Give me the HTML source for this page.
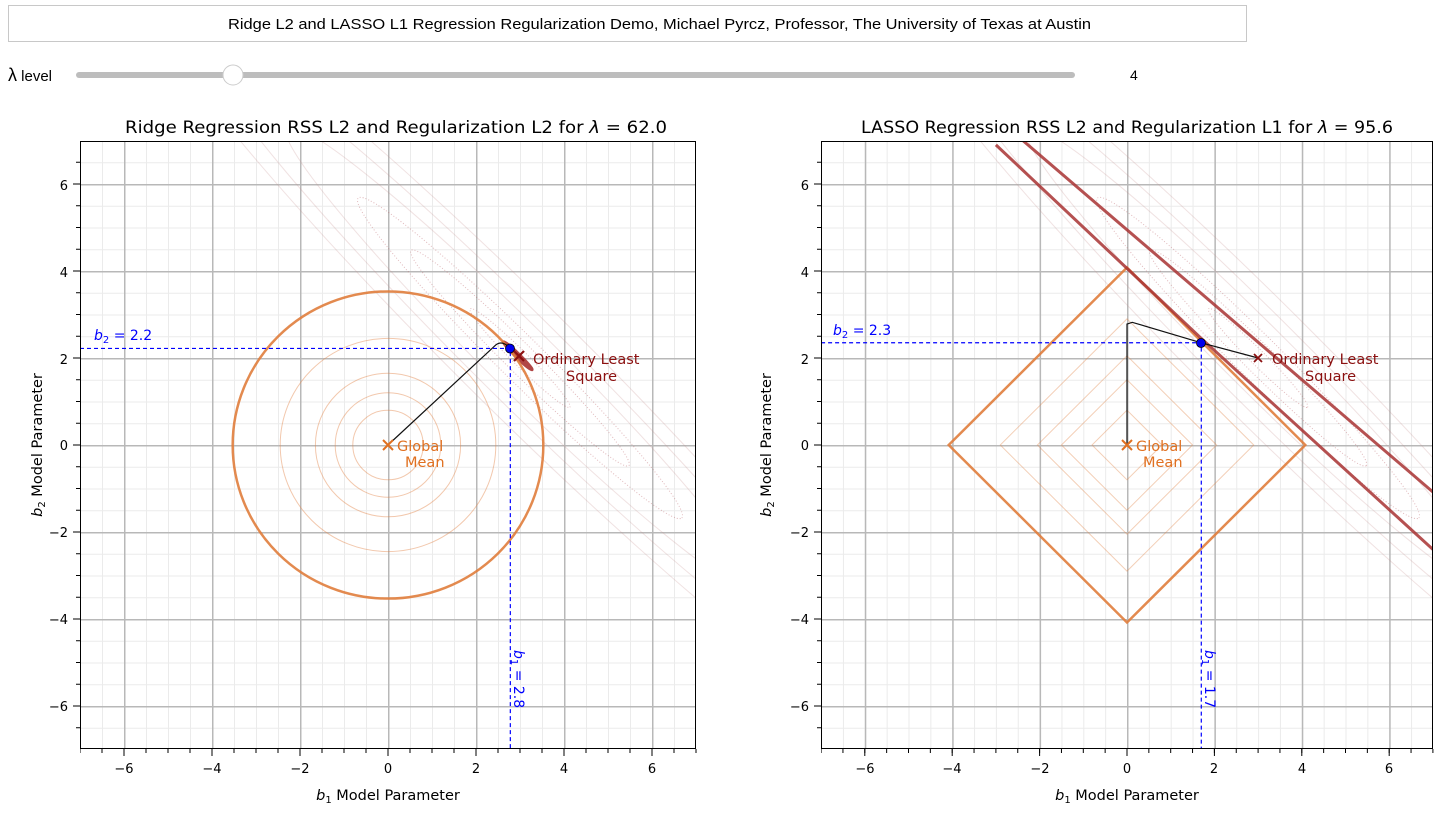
<!DOCTYPE html>
<html><head><meta charset="utf-8"><style>
body{margin:0;background:#fff;width:1450px;height:819px;overflow:hidden;font-family:"DejaVu Sans","Liberation Sans",sans-serif;}
</style></head><body>
<svg width="1450" height="819" xmlns="http://www.w3.org/2000/svg" font-family="DejaVu Sans, Liberation Sans, sans-serif">
<defs>
<pattern id="pm1" patternUnits="userSpaceOnUse" x="388" y="445" width="22" height="21.75"><path d="M0 0V21.75M0 0H22" stroke="#ebebeb" stroke-width="2"/></pattern>
<pattern id="pM1" patternUnits="userSpaceOnUse" x="388" y="445" width="88" height="87"><path d="M0 0V87M0 0H88" stroke="#b8b8b8" stroke-width="3"/></pattern>
<pattern id="pm2" patternUnits="userSpaceOnUse" x="1127" y="445" width="21.85" height="21.75"><path d="M0 0V21.75M0 0H21.85" stroke="#ebebeb" stroke-width="2"/></pattern>
<pattern id="pM2" patternUnits="userSpaceOnUse" x="1127" y="445" width="87.4" height="87"><path d="M0 0V87M0 0H87.4" stroke="#b8b8b8" stroke-width="3"/></pattern>
<pattern id="tx1" patternUnits="userSpaceOnUse" x="387.5" y="0" width="22" height="819"><path d="M0.5 749V753" stroke="#000"/></pattern>
<pattern id="tX1" patternUnits="userSpaceOnUse" x="387.5" y="0" width="88" height="819"><path d="M0.5 749V756" stroke="#000"/></pattern>
<pattern id="ty1" patternUnits="userSpaceOnUse" x="0" y="444.5" width="819" height="21.75"><path d="M76 0.5H80" stroke="#000"/></pattern>
<pattern id="tY1" patternUnits="userSpaceOnUse" x="0" y="444.5" width="819" height="87"><path d="M73 0.5H80" stroke="#000"/></pattern>
<pattern id="tx2" patternUnits="userSpaceOnUse" x="1126.5" y="0" width="21.85" height="819"><path d="M0.5 749V753" stroke="#000"/></pattern>
<pattern id="tX2" patternUnits="userSpaceOnUse" x="1126.5" y="0" width="87.4" height="819"><path d="M0.5 749V756" stroke="#000"/></pattern>
<pattern id="ty2" patternUnits="userSpaceOnUse" x="0" y="444.5" width="1450" height="21.75"><path d="M817 0.5H821" stroke="#000"/></pattern>
<pattern id="tY2" patternUnits="userSpaceOnUse" x="0" y="444.5" width="1450" height="87"><path d="M814 0.5H821" stroke="#000"/></pattern>
<clipPath id="c1"><rect x="80" y="141" width="616" height="608"/></clipPath>
<clipPath id="c2"><rect x="821" y="141" width="612" height="608"/></clipPath>
</defs>
<!-- header -->
<rect x="8.5" y="5.5" width="1238" height="36" fill="#fff" stroke="#c8c8c8"/>
<text x="228" y="29" font-size="15" textLength="863" lengthAdjust="spacingAndGlyphs" font-family="Liberation Sans, sans-serif">Ridge L2 and LASSO L1 Regression Regularization Demo, Michael Pyrcz, Professor, The University of Texas at Austin</text>
<text x="8" y="81" font-size="15" font-family="Liberation Sans, sans-serif"><tspan font-size="18">λ</tspan> level</text>
<rect x="76" y="72" width="999" height="6" rx="3" fill="#bdbdbd"/>
<circle cx="233" cy="75" r="10" fill="#fff" stroke="#ccc"/>
<text x="1130" y="80" font-size="14" font-family="Liberation Sans, sans-serif">4</text>

<!-- LEFT PLOT -->
<rect x="80" y="141" width="616" height="608" fill="url(#pm1)"/>
<rect x="80" y="141" width="616" height="608" fill="url(#pM1)"/>
<g clip-path="url(#c1)">
<g transform="translate(388 445) scale(44 -43.5)" fill="none">
<g stroke="#b5525a" stroke-opacity="0.4" stroke-dasharray="1 2">
<ellipse cx="3" cy="2" rx="1.6" ry="0.17" transform="rotate(-45 3 2)" vector-effect="non-scaling-stroke"/>
<ellipse cx="3" cy="2" rx="3.5" ry="0.33" transform="rotate(-45 3 2)" vector-effect="non-scaling-stroke"/>
<ellipse cx="3" cy="2" rx="5.2" ry="0.5" transform="rotate(-45 3 2)" vector-effect="non-scaling-stroke"/>
</g>
<g stroke="#c48a8a" stroke-opacity="0.25">
<ellipse cx="3" cy="2" rx="7.5" ry="0.75" transform="rotate(-45 3 2)" vector-effect="non-scaling-stroke"/>
<ellipse cx="3" cy="2" rx="10" ry="1.0" transform="rotate(-45 3 2)" vector-effect="non-scaling-stroke"/>
<ellipse cx="3" cy="2" rx="12" ry="1.3" transform="rotate(-45 3 2)" vector-effect="non-scaling-stroke"/>
</g>
<ellipse cx="2.95" cy="2.05" rx="0.45" ry="0.04" transform="rotate(-45 2.95 2.05)" stroke="#a83232" stroke-width="3.5" vector-effect="non-scaling-stroke" stroke-opacity="0.9"/>
<g stroke="#e2864a" stroke-opacity="0.45">
<circle r="0.8" vector-effect="non-scaling-stroke"/><circle r="1.2" vector-effect="non-scaling-stroke"/><circle r="1.65" vector-effect="non-scaling-stroke"/><circle r="2.45" vector-effect="non-scaling-stroke"/>
</g>
<circle r="3.53" stroke="#e07d3c" stroke-width="2.5" vector-effect="non-scaling-stroke" stroke-opacity="0.9"/>
<path d="M0 0L2.45 2.3Q2.6 2.42 2.78 2.22" stroke="#111" stroke-width="1.2" vector-effect="non-scaling-stroke"/>
<path d="M-7 2.22H2.78V-7" stroke="#0000ff" stroke-width="1.2" stroke-dasharray="4 3" vector-effect="non-scaling-stroke"/>
</g>
</g>
<circle cx="510" cy="348.5" r="4.5" fill="#0000ee" stroke="#000" stroke-width="0.8"/>
<path d="M514 351l10 10M524 351l-10 10" stroke="#8b1010" stroke-width="2.2"/>
<path d="M383 440l10 10M393 440l-10 10" stroke="#e07020" stroke-width="2"/>
<text x="397" y="451" font-size="14.5" fill="#e07020">Global</text>
<text x="405" y="467" font-size="14.5" fill="#e07020">Mean</text>
<text x="533" y="364" font-size="14.5" fill="#8b1010">Ordinary Least</text>
<text x="566" y="381" font-size="14.5" fill="#8b1010">Square</text>
<text x="94" y="340" font-size="14" fill="#0000ff"><tspan font-style="italic">b</tspan><tspan font-size="10" dy="3">2</tspan><tspan dy="-3"> = 2.2</tspan></text>
<text transform="translate(514 650) rotate(90)" font-size="14" fill="#0000ff"><tspan font-style="italic">b</tspan><tspan font-size="10" dy="3">1</tspan><tspan dy="-3"> = 2.8</tspan></text>
<rect x="80.5" y="141.5" width="615" height="607" fill="none" stroke="#000"/>
<rect x="76" y="141" width="5" height="608" fill="url(#ty1)"/>
<rect x="73" y="141" width="8" height="608" fill="url(#tY1)"/>
<rect x="80" y="749" width="617" height="5" fill="url(#tx1)"/>
<rect x="80" y="749" width="617" height="8" fill="url(#tX1)"/>
<g font-size="13" text-anchor="middle">
<text x="124" y="773">−6</text><text x="212" y="773">−4</text><text x="300" y="773">−2</text><text x="388" y="773">0</text><text x="476" y="773">2</text><text x="564" y="773">4</text><text x="652" y="773">6</text>
</g>
<g font-size="13" text-anchor="end">
<text x="68" y="190">6</text><text x="68" y="277">4</text><text x="68" y="364">2</text><text x="68" y="450">0</text><text x="68" y="537">−2</text><text x="68" y="624">−4</text><text x="68" y="711">−6</text>
</g>
<text x="388" y="800" font-size="14.5" text-anchor="middle"><tspan font-style="italic">b</tspan><tspan font-size="10" dy="3">1</tspan><tspan dy="-3"> Model Parameter</tspan></text>
<text transform="translate(42 445) rotate(-90)" font-size="14.5" text-anchor="middle"><tspan font-style="italic">b</tspan><tspan font-size="10" dy="3">2</tspan><tspan dy="-3"> Model Parameter</tspan></text>
<text x="125" y="133" font-size="16.5" textLength="542" lengthAdjust="spacingAndGlyphs">Ridge Regression RSS L2 and Regularization L2 for <tspan font-style="italic">λ</tspan> = 62.0</text>

<!-- RIGHT PLOT -->
<rect x="821" y="141" width="612" height="608" fill="url(#pm2)"/>
<rect x="821" y="141" width="612" height="608" fill="url(#pM2)"/>
<g clip-path="url(#c2)">
<g transform="translate(1127 445) scale(43.7 -43.5)" fill="none">
<g stroke="#b5525a" stroke-opacity="0.4" stroke-dasharray="1 2">
<ellipse cx="3" cy="2" rx="1.6" ry="0.17" transform="rotate(-45 3 2)" vector-effect="non-scaling-stroke"/>
<ellipse cx="3" cy="2" rx="3.5" ry="0.33" transform="rotate(-45 3 2)" vector-effect="non-scaling-stroke"/>
<ellipse cx="3" cy="2" rx="5.2" ry="0.5" transform="rotate(-45 3 2)" vector-effect="non-scaling-stroke"/>
</g>
<g stroke="#c48a8a" stroke-opacity="0.25">
<ellipse cx="3" cy="2" rx="7.5" ry="0.75" transform="rotate(-45 3 2)" vector-effect="non-scaling-stroke"/>
<ellipse cx="3" cy="2" rx="10" ry="1.0" transform="rotate(-45 3 2)" vector-effect="non-scaling-stroke"/>
<ellipse cx="3" cy="2" rx="12" ry="1.3" transform="rotate(-45 3 2)" vector-effect="non-scaling-stroke"/>
</g>
<g stroke="#e2864a" stroke-opacity="0.4">
<path d="M0.8 0L0 0.8L-0.8 0L0 -0.8Z" vector-effect="non-scaling-stroke"/>
<path d="M1.5 0L0 1.5L-1.5 0L0 -1.5Z" vector-effect="non-scaling-stroke"/>
<path d="M2.05 0L0 2.05L-2.05 0L0 -2.05Z" vector-effect="non-scaling-stroke"/>
<path d="M2.9 0L0 2.9L-2.9 0L0 -2.9Z" vector-effect="non-scaling-stroke"/>
</g>
<path d="M4.08 0L0 4.08L-4.08 0L0 -4.08Z" stroke="#e07d3c" stroke-width="2.5" stroke-opacity="0.9" vector-effect="non-scaling-stroke"/>
<path d="M-2.5 7.1L7 -1.08" stroke="#a83232" stroke-width="3" stroke-opacity="0.85" vector-effect="non-scaling-stroke"/>
<path d="M-3 6.9L1.7 2.45L7 -2.4" stroke="#a83232" stroke-width="3" stroke-opacity="0.85" vector-effect="non-scaling-stroke"/>
<path d="M0 0V2.78L0.12 2.82L1.7 2.35L3 2" stroke="#111" stroke-width="1.2" vector-effect="non-scaling-stroke"/>
<path d="M-7 2.35H1.7V-7" stroke="#0000ff" stroke-width="1.2" stroke-dasharray="4 3" vector-effect="non-scaling-stroke"/>
</g>
</g>
<circle cx="1201" cy="343" r="4.5" fill="#0000ee" stroke="#000" stroke-width="0.8"/>
<path d="M1254 354l8 8M1262 354l-8 8" stroke="#8b1010" stroke-width="1.8"/>
<path d="M1122 440l10 10M1132 440l-10 10" stroke="#e07020" stroke-width="2"/>
<text x="1136" y="451" font-size="14.5" fill="#e07020">Global</text>
<text x="1143" y="467" font-size="14.5" fill="#e07020">Mean</text>
<text x="1272" y="364" font-size="14.5" fill="#8b1010">Ordinary Least</text>
<text x="1305" y="381" font-size="14.5" fill="#8b1010">Square</text>
<text x="833" y="335" font-size="14" fill="#0000ff"><tspan font-style="italic">b</tspan><tspan font-size="10" dy="3">2</tspan><tspan dy="-3"> = 2.3</tspan></text>
<text transform="translate(1205 650) rotate(90)" font-size="14" fill="#0000ff"><tspan font-style="italic">b</tspan><tspan font-size="10" dy="3">1</tspan><tspan dy="-3"> = 1.7</tspan></text>
<rect x="821.5" y="141.5" width="611" height="607" fill="none" stroke="#000"/>
<rect x="817" y="141" width="5" height="608" fill="url(#ty2)"/>
<rect x="814" y="141" width="8" height="608" fill="url(#tY2)"/>
<rect x="821" y="749" width="613" height="5" fill="url(#tx2)"/>
<rect x="821" y="749" width="613" height="8" fill="url(#tX2)"/>
<g font-size="13" text-anchor="middle">
<text x="865" y="773">−6</text><text x="952" y="773">−4</text><text x="1040" y="773">−2</text><text x="1127" y="773">0</text><text x="1214" y="773">2</text><text x="1302" y="773">4</text><text x="1389" y="773">6</text>
</g>
<g font-size="13" text-anchor="end">
<text x="809" y="190">6</text><text x="809" y="277">4</text><text x="809" y="364">2</text><text x="809" y="450">0</text><text x="809" y="537">−2</text><text x="809" y="624">−4</text><text x="809" y="711">−6</text>
</g>
<text x="1127" y="800" font-size="14.5" text-anchor="middle"><tspan font-style="italic">b</tspan><tspan font-size="10" dy="3">1</tspan><tspan dy="-3"> Model Parameter</tspan></text>
<text transform="translate(771 445) rotate(-90)" font-size="14.5" text-anchor="middle"><tspan font-style="italic">b</tspan><tspan font-size="10" dy="3">2</tspan><tspan dy="-3"> Model Parameter</tspan></text>
<text x="861" y="133" font-size="16.5" textLength="532" lengthAdjust="spacingAndGlyphs">LASSO Regression RSS L2 and Regularization L1 for <tspan font-style="italic">λ</tspan> = 95.6</text>
</svg>
</body></html>
